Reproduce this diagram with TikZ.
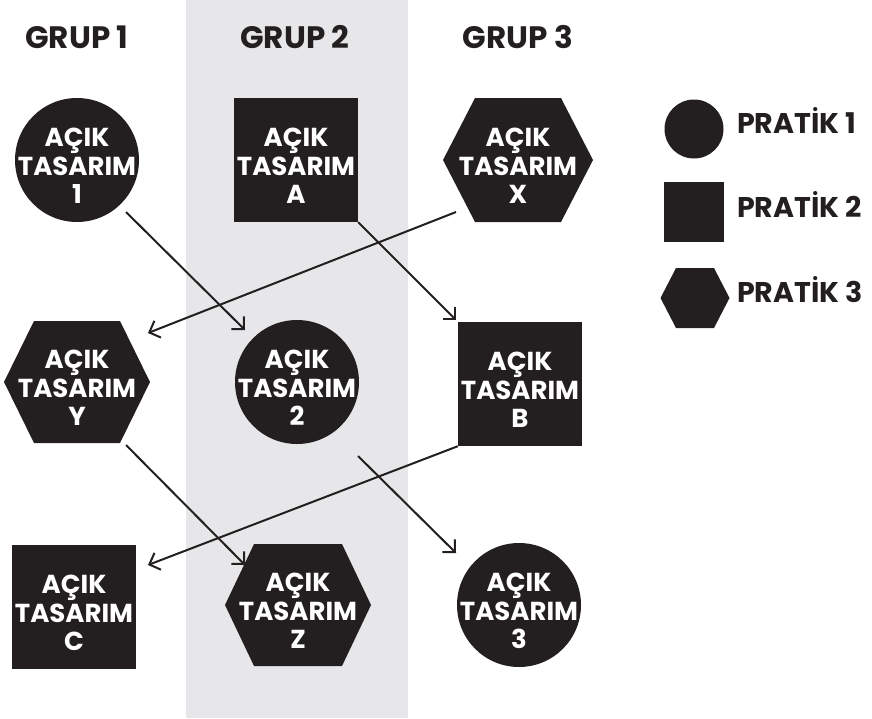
\documentclass[tikz,border=0pt]{standalone}
\usepackage{fontspec}
\setmainfont{Poppins}
\usetikzlibrary{arrows.meta,calc}
\definecolor{ink}{HTML}{231F20}
\definecolor{band}{RGB}{231,231,233}
\begin{document}
\begin{tikzpicture}[x=1pt,y=-1pt,
  txt/.style={text=white,font=\bfseries\fontsize{26}{28.5}\selectfont,align=center,inner sep=0pt},
  sq/.style={txt,rectangle,fill=ink,minimum width=124pt,minimum height=124pt},
  head/.style={text=ink,font=\bfseries\fontsize{31}{33}\selectfont,inner sep=0pt,anchor=base},
  leg/.style={text=ink,font=\bfseries\fontsize{28.5}{30}\selectfont,inner sep=0pt,anchor=base west},
  hexa/.style={fill=ink},
  arr/.style={draw=ink,line width=2pt,-{Straight Barb[length=9pt,width=18pt]}}]
\useasboundingbox (0,0) rectangle (872,718);
\fill[band] (186,0) rectangle (408,718);
% headers
\node[head] (g1) at (77,48) {GRUP 1};
\node[head] (g2) at (295,48) {GRUP 2};
\node[head] (g3) at (518,48) {GRUP 3};
% row 1
\fill[ink] (77,160) circle[radius=62];
\node[txt] (n1) at (77,166) {AÇIK\\TASARIM\\1};
\node[sq] (A) at (296,160) {};
\node[txt] (At) at (296,166) {AÇIK\\TASARIM\\A};
\fill[hexa,shift={(518,160)}] (-75,0) -- (-43,-62) -- (43,-62) -- (75,0) -- (43,62) -- (-43,62) -- cycle;
\node[txt] (X) at (518,166) {AÇIK\\TASARIM\\X};
% row 2
\fill[hexa,shift={(77,382)}] (-73,0) -- (-43,-61) -- (43,-61) -- (73,0) -- (43,61) -- (-43,61) -- cycle;
\node[txt] (Y) at (77,388) {AÇIK\\TASARIM\\Y};
\fill[ink] (297,382) circle[radius=62];
\node[txt] (n2) at (297,388) {AÇIK\\TASARIM\\2};
\node[sq] (B) at (520,384) {};
\node[txt] (Bt) at (520,390) {AÇIK\\TASARIM\\B};
% row 3
\node[sq] (C) at (74,607) {};
\node[txt] (Ct) at (74,613) {AÇIK\\TASARIM\\C};
\fill[hexa,shift={(298,605)}] (-73,0) -- (-44,-61) -- (44,-61) -- (73,0) -- (44,61) -- (-44,61) -- cycle;
\node[txt] (Z) at (298,611) {AÇIK\\TASARIM\\Z};
\fill[ink] (519,605) circle[radius=62];
\node[txt] (n3) at (519,611) {AÇIK\\TASARIM\\3};
% arrows
\draw[arr] ($(n1)+(49,46)$) -- ($(n2)+(-52,-58)$);
\draw[arr] ($(X)+(-62,46)$) -- ($(Y)+(71,-55)$);
\draw[arr,shorten >=2pt] (A.south east) -- (B.north west);
\draw[arr] ($(Y)+(49,57)$) -- ($(Z)+(-53,-46)$);
\draw[arr] (B.south west) -- ($(C)+(74,-42)$);
\draw[arr] ($(n2)+(61,68)$) -- ($(n3)+(-63,-58)$);
% legend
\fill[ink] (694,129) circle[radius=29.5];
\node[leg] (p1) at (737,133) {PRATİK 1};
\fill[ink] (664,182) rectangle (724,242);
\node[leg] (p2) at (737,217) {PRATİK 2};
\fill[hexa,shift={(695,298)}] (-34.5,0) -- (-19,-30) -- (19,-30) -- (34.5,0) -- (19,30) -- (-19,30) -- cycle;
\node[leg] (p3) at (737,302) {PRATİK 3};
\end{tikzpicture}
\end{document}
